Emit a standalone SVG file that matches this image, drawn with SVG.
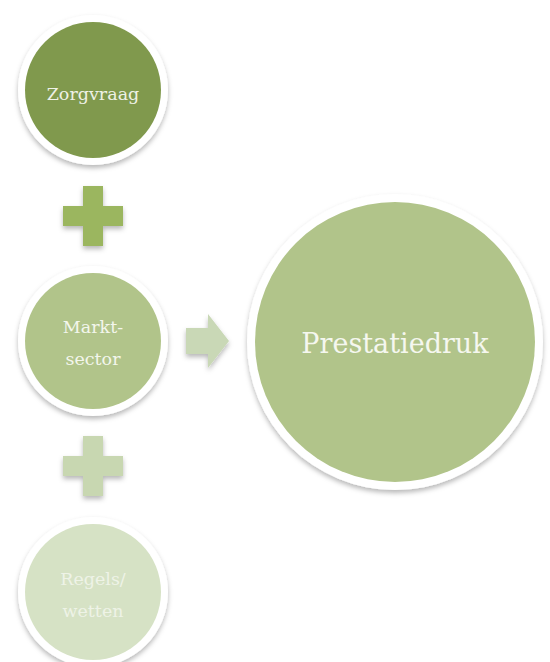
<svg xmlns="http://www.w3.org/2000/svg" width="550" height="662" viewBox="0 0 550 662">
  <defs>
    <filter id="shadow" x="-20%" y="-20%" width="140%" height="150%">
      <feDropShadow dx="0" dy="3" stdDeviation="2.5" flood-color="#000" flood-opacity="0.28"/>
    </filter>
    <style>
      .ring { fill: #ffffff; filter: url(#shadow); }
      .label { font-family: "DejaVu Serif", "Liberation Serif", serif; text-anchor: middle; }
      .small { font-size: 17.5px; }
      .big { font-size: 27px; }
    </style>
  </defs>
  <rect width="550" height="662" fill="#ffffff"/>

  <!-- connectors: plus signs and arrow -->
  <g id="connectors">
    <path id="plus-1" filter="url(#shadow)" fill="#9bb65f" d="M83 186 H103 V206 H123 V226 H103 V246 H83 V226 H63 V206 H83 Z"/>
    <path id="plus-2" filter="url(#shadow)" fill="#c8d7b1" d="M83 436 H103 V456 H123 V476 H103 V496 H83 V476 H63 V456 H83 Z"/>
    <path id="arrow" filter="url(#shadow)" fill="#c9d8b6" d="M186 328 H208 V314 L229 341 L208 368 V354 H186 Z"/>
  </g>

  <g id="zorgvraag">
    <circle class="ring" cx="93" cy="90" r="75"/>
    <circle cx="93" cy="90" r="68" fill="#80994d"/>
    <text class="label small" x="93" y="100" fill="#eef1e6">Zorgvraag</text>
  </g>

  <g id="marktsector">
    <circle class="ring" cx="93" cy="341" r="75"/>
    <circle cx="93" cy="341" r="68" fill="#b1c48a"/>
    <text class="label small" x="93" y="333" fill="#f3f6ec">Markt-</text>
    <text class="label small" x="93" y="365" fill="#f3f6ec">sector</text>
  </g>

  <g id="regels-wetten">
    <circle class="ring" cx="93" cy="592" r="75"/>
    <circle cx="93" cy="592" r="68" fill="#d6e2c5"/>
    <text class="label small" x="93" y="585" fill="#eef3e7">Regels/</text>
    <text class="label small" x="93" y="617" fill="#eef3e7">wetten</text>
  </g>

  <g id="prestatiedruk">
    <circle class="ring" cx="395" cy="342" r="148"/>
    <circle cx="395" cy="342" r="140" fill="#b1c48a"/>
    <text class="label big" x="395" y="353" fill="#f5f7ef">Prestatiedruk</text>
  </g>
</svg>
